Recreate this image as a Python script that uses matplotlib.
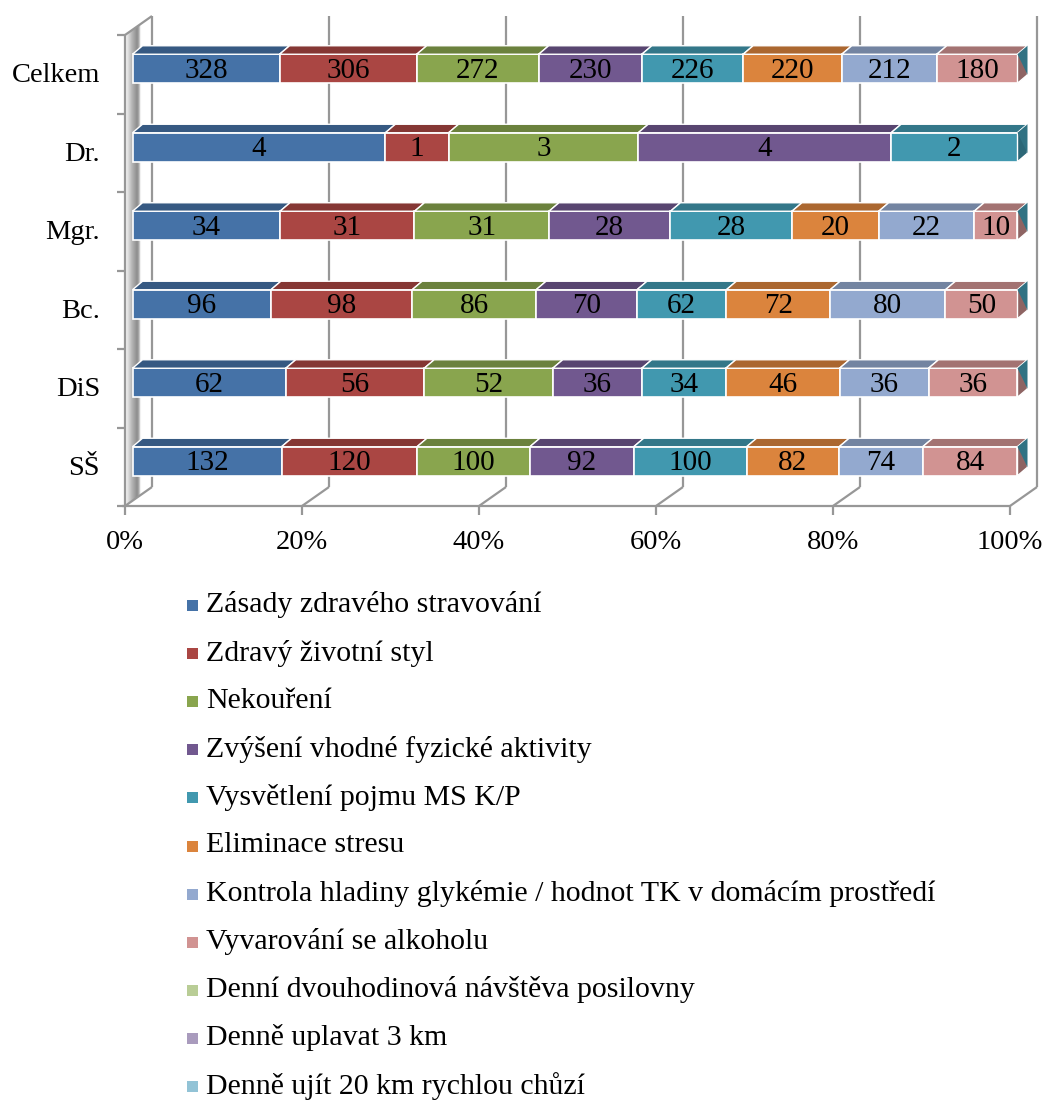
import numpy as np
import matplotlib.pyplot as plt
from matplotlib.patches import Polygon, Rectangle
from matplotlib.colors import to_rgb

plt.rcParams['font.family'] = ['Liberation Serif', 'DejaVu Serif']

# --- data ---
categories = ["SŠ", "DiS", "Bc.", "Mgr.", "Dr.", "Celkem"]

zasady     = [132, 62, 96, 34, 4, 328]
zdravy     = [120, 56, 98, 31, 1, 306]
nekoureni  = [100, 52, 86, 31, 3, 272]
zvyseni    = [92, 36, 70, 28, 4, 230]
vysvetleni = [100, 34, 62, 28, 2, 226]
eliminace  = [82, 46, 72, 20, 0, 220]
kontrola   = [74, 36, 80, 22, 0, 212]
alkohol    = [84, 36, 50, 10, 0, 180]
posilovna  = [0, 0, 0, 0, 0, 0]
uplavat    = [0, 0, 0, 0, 0, 0]
chuze      = [0, 0, 0, 0, 0, 0]

series_names = [
    "Zásady zdravého stravování",
    "Zdravý životní styl",
    "Nekouření",
    "Zvýšení vhodné fyzické aktivity",
    "Vysvětlení pojmu MS K/P",
    "Eliminace stresu",
    "Kontrola hladiny glykémie / hodnot TK v domácím prostředí",
    "Vyvarování se alkoholu",
    "Denní dvouhodinová návštěva posilovny",
    "Denně uplavat 3 km",
    "Denně ujít 20 km rychlou chůzí",
]
series_values = [zasady, zdravy, nekoureni, zvyseni, vysvetleni, eliminace,
                 kontrola, alkohol, posilovna, uplavat, chuze]
colors = ["#4572A7", "#AA4643", "#89A54E", "#71588F", "#4198AF", "#DB843D",
          "#93A9CF", "#D19392", "#B9CD96", "#A99BBD", "#92C3D6"]

tick_values = [0, 0.2, 0.4, 0.6, 0.8, 1.0]
tick_labels = ["0%", "20%", "40%", "60%", "80%", "100%"]


def shade(c, f):
    r, g, b = to_rgb(c)
    return (r * f, g * f, b * f)


# --- figure / axes ---
W, H = 1046, 1102
fig = plt.figure(figsize=(W / 100, H / 100), dpi=100)
PLOT_H = 560
ax = fig.add_axes([0, 1 - PLOT_H / H, 1, PLOT_H / H])

PX = 1 / 885.0     # x units per pixel (0..1 spans the front floor)
PY = 1 / 78.5      # y units per pixel (one category band)

# oblique projection offsets
DX, DY = 27 * PX, 19 * PY           # full depth of the box
BAR_X, BAR_Y = 7.5 * PX, 5.5 * PY   # bar front face shift
BAR_H = 29 * PY
TOP_X, TOP_Y = 10 * PX, 8.5 * PY    # bar thickness

n = len(categories)
y_lo, y_hi = -0.5, n - 0.5
grid_kw = dict(color="#979797", lw=1.6, zorder=1, solid_capstyle="butt")

# left wall shading
wall = Polygon([(0, y_lo), (0, y_hi), (DX, y_hi + DY), (DX, y_lo + DY)],
               closed=True, fc="none", ec="none")
ax.add_patch(wall)
t = np.linspace(0, 1, 200)
prof = np.interp(t, [0, 0.06, 0.25, 0.45, 0.52, 0.58, 1],
                 [1, 0.93, 0.72, 0.55, 0.68, 1, 1])
img = np.dstack([prof, prof, prof]).repeat(2, axis=0)
im = ax.imshow(img, extent=(0, DX, y_lo, y_hi + DY), aspect="auto",
               origin="lower", zorder=0.5, interpolation="bilinear")
im.set_clip_path(wall)

# gridlines on the back wall and floor
for v in tick_values:
    ax.plot([v + DX, v + DX], [y_lo + DY, y_hi + DY], **grid_kw)
    ax.plot([v, v + DX], [y_lo, y_lo + DY], **grid_kw)
    ax.plot([v, v], [y_lo, y_lo - 9 * PY], **grid_kw)
ax.plot([-3 * PX, 1], [y_lo, y_lo], **grid_kw)
ax.plot([0, 0], [y_lo, y_hi], **grid_kw)
ax.plot([0, DX], [y_hi, y_hi + DY], **grid_kw)
for k in range(n + 1):
    ax.plot([-8 * PX, 0], [k - 0.5, k - 0.5], **grid_kw)

# stacked 3D bars
for i in range(n):
    vals = [s[i] for s in series_values]
    total = float(sum(vals))
    cum = 0.0
    bottom = i + BAR_Y - BAR_H / 2
    top = bottom + BAR_H
    last = None
    for s, v in enumerate(vals):
        if v == 0:
            continue
        w = v / total
        left = cum + BAR_X
        ax.barh(i + BAR_Y, w, left=left, height=BAR_H, color=colors[s],
                edgecolor="white", linewidth=1.2, zorder=4)
        ax.add_patch(Polygon([(left, top), (left + w, top),
                              (left + w + TOP_X, top + TOP_Y),
                              (left + TOP_X, top + TOP_Y)],
                             closed=True, fc=shade(colors[s], 0.78),
                             ec="white", lw=1.0, zorder=4))
        ax.text(left + w / 2, i + BAR_Y - 2 * PY, str(v), ha="center",
                va="center", fontsize=21, zorder=6)
        cum += w
        last = s
    right = 1 + BAR_X
    ax.add_patch(Polygon([(right, bottom), (right, top),
                          (right + TOP_X, top + TOP_Y),
                          (right + TOP_X, bottom + TOP_Y)],
                         closed=True, fc=shade(colors[last], 0.68),
                         ec="white", lw=1.0, zorder=4))
    ax.add_patch(Polygon([(right, top), (right + TOP_X, top + TOP_Y),
                          (right + TOP_X, bottom + TOP_Y)],
                         closed=True, fc=shade(colors[4], 0.75),
                         ec="none", zorder=4.5))

# axis labels
for v, lab in zip(tick_values, tick_labels):
    ax.text(v, -0.97, lab, ha="center", va="center", fontsize=20.5)
for i, lab in enumerate(categories):
    ax.text(-25 * PX, i - 0.02, lab, ha="right", va="center", fontsize=20.5)

ax.set_xlim(-125 * PX, (W - 125) * PX)
ax.set_ylim((506 - PLOT_H) * PY - 0.5, 506 * PY - 0.5)
ax.axis("off")

# legend
for k, (name, c) in enumerate(zip(series_names, colors)):
    py = 605 + 48.1 * k
    fig.patches.append(Rectangle((187 / W, 1 - (py + 6) / H), 11 / W, 11 / H,
                                 transform=fig.transFigure, fc=c, ec="none"))
    fig.text(206 / W, 1 - py / H, name, va="center", ha="left", fontsize=21.5)

fig.savefig("out.png", dpi=100)
